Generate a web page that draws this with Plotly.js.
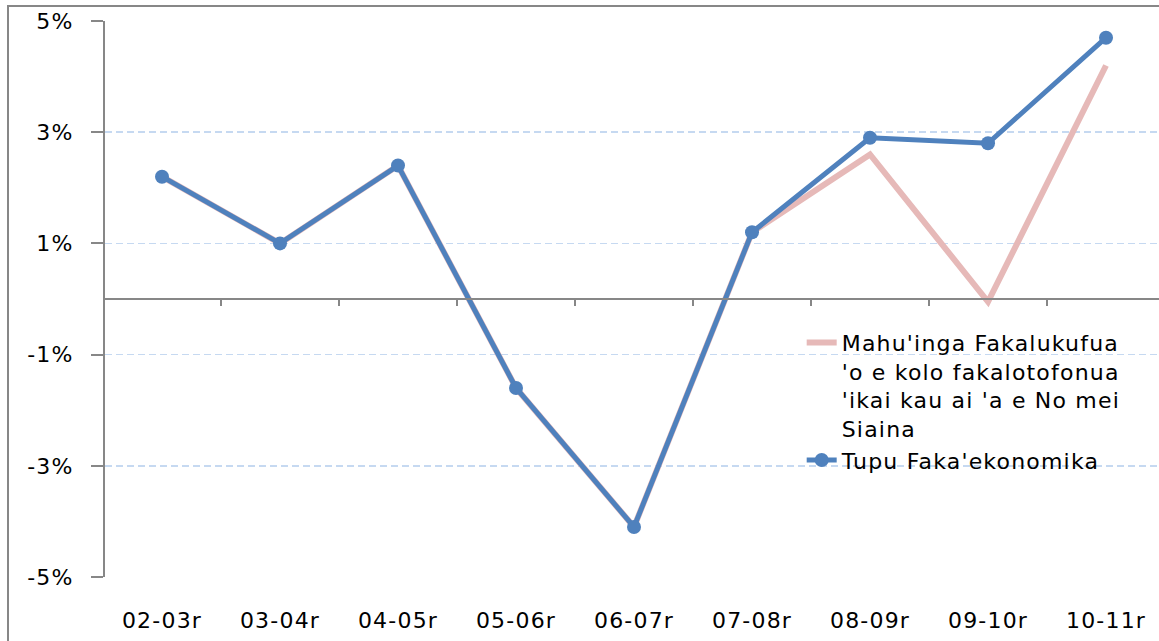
<!DOCTYPE html>
<html>
<head>
<meta charset="utf-8">
<script src="https://cdn.plot.ly/plotly-3.0.1.min.js"></script>
<style>
  html, body { margin: 0; padding: 0; background: #fff; overflow: hidden; }
  #wrap { position: relative; width: 1159px; height: 641px; }
  #frame { position: absolute; left: 7px; top: 5px; width: 1200px; height: 700px;
           border-left: 2px solid #878787; border-top: 2px solid #878787; pointer-events: none; }
  #chart { position: absolute; left: 0; top: 0; width: 1159px; height: 641px; }
  .xtick text, .ytick text, .legendtext { letter-spacing: 1.2px; }
</style>
</head>
<body>
<div id="wrap">
  <div id="chart"></div>
  <div id="frame"></div>
</div>
<script>
// Categories (fiscal years)
const categories = ["02-03r", "03-04r", "04-05r", "05-06r", "06-07r", "07-08r", "08-09r", "09-10r", "10-11r"];
// Economic growth excluding Chinese loan construction (%)
const excludingLoan = [2.2, 1.0, 2.4, -1.6, -4.1, 1.2, 2.6, -0.05, 4.2];
// Economic growth (%)
const economicGrowth = [2.2, 1.0, 2.4, -1.6, -4.1, 1.2, 2.9, 2.8, 4.7];
// Y tick values and labels
const yTickVals = [-5, -3, -1, 1, 3, 5];
const yTickText = ["-5%", "-3%", "-1%", "1%", "3%", "5%"];
const seriesNames = [
  "Mahu'inga Fakalukufua<br>'o e kolo fakalotofonua<br>'ikai kau ai 'a e No mei<br>Siaina",
  "Tupu Faka'ekonomika"
];

const font = { family: "DejaVu Sans, Verdana, sans-serif", size: 22, color: "#000" };
const xRange = [-0.483, 8.449];

const data = [
  {
    x: categories, y: excludingLoan, name: seriesNames[0],
    type: "scatter", mode: "lines", xaxis: "x", yaxis: "y",
    line: { color: "#E6B9B8", width: 6 }
  },
  {
    x: categories, y: economicGrowth, name: seriesNames[1],
    type: "scatter", mode: "lines+markers", xaxis: "x2", yaxis: "y",
    line: { color: "#4F81BD", width: 5 },
    marker: { color: "#4F81BD", size: 14, symbol: "circle" }
  }
];

const layout = {
  width: 1159, height: 641,
  margin: { l: 105, r: 0, t: 21, b: 64, pad: 0 },
  paper_bgcolor: "#fff", plot_bgcolor: "#fff",
  font: font,
  showlegend: true,
  legend: {
    x: 0.661, y: 0.459, xanchor: "left", yanchor: "top",
    bgcolor: "rgba(0,0,0,0)", font: font, valign: "top",
    tracegroupgap: 0, itemwidth: 30
  },
  xaxis: {
    type: "category", range: xRange,
    showline: false, showgrid: false, zeroline: false,
    ticks: "outside", ticklen: 24, tickcolor: "rgba(0,0,0,0)",
    tickfont: font, fixedrange: true
  },
  xaxis2: {
    type: "category", range: xRange, overlaying: "x",
    anchor: "free", position: 0.5,
    showline: true, linecolor: "#878787", linewidth: 2,
    showgrid: false, zeroline: false,
    ticks: "outside", tickson: "boundaries", ticklen: 6, tickwidth: 1.5, tickcolor: "#878787",
    showticklabels: false
  },
  yaxis: {
    range: [-5, 5], tickvals: yTickVals, ticktext: yTickText,
    showline: true, linecolor: "#878787", linewidth: 2,
    ticks: "outside", ticklen: 12, tickwidth: 2, tickcolor: "#878787",
    showgrid: true, gridcolor: "#C6D9F1", gridwidth: 1.5, griddash: "7px,4px",
    zeroline: false, tickfont: font, ticklabelstandoff: 13
  }
};

Plotly.newPlot("chart", data, layout, { displayModeBar: false, staticPlot: true });
</script>
</body>
</html>
